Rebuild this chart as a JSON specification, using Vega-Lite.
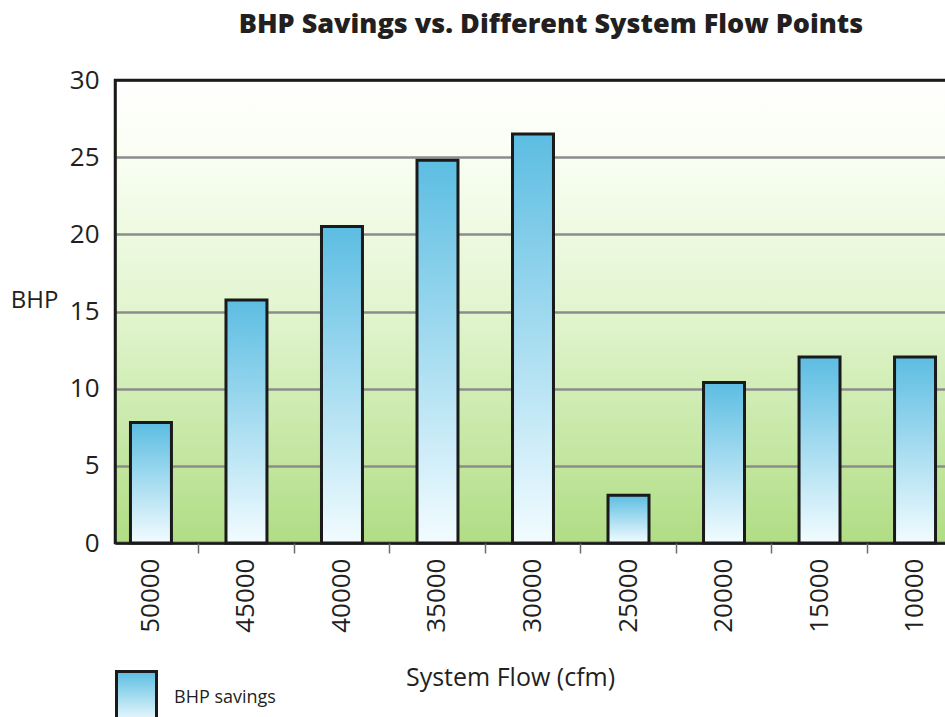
{
  "$schema": "https://vega.github.io/schema/vega-lite/v6.json",
  "autosize": "none",
  "width": 836,
  "height": 463,
  "padding": {"left": 115, "top": 80, "right": 0, "bottom": 174},
  "background": "white",
  "title": {
    "text": "BHP Savings vs. Different System Flow Points",
    "font": "Open Sans",
    "fontSize": 27,
    "fontWeight": 800,
    "color": "#231f20",
    "anchor": "middle",
    "dx": 18,
    "offset": 28
  },
  "config": {
    "font": "Open Sans",
    "view": {
      "stroke": "#1a1a1a",
      "strokeWidth": 2.5,
      "fill": {
        "gradient": "linear", "x1": 0, "y1": 0, "x2": 0, "y2": 1,
        "stops": [
          {"offset": 0, "color": "#ffffff"},
          {"offset": 0.15, "color": "#fafef4"},
          {"offset": 0.5, "color": "#e2f5cf"},
          {"offset": 1, "color": "#b0dd84"}
        ]
      }
    }
  },
  "data": {
    "values": [
      {"flow": "50000", "bhp": 7.8, "series": "BHP savings"},
      {"flow": "45000", "bhp": 15.75, "series": "BHP savings"},
      {"flow": "40000", "bhp": 20.5, "series": "BHP savings"},
      {"flow": "35000", "bhp": 24.8, "series": "BHP savings"},
      {"flow": "30000", "bhp": 26.5, "series": "BHP savings"},
      {"flow": "25000", "bhp": 3.1, "series": "BHP savings"},
      {"flow": "20000", "bhp": 10.4, "series": "BHP savings"},
      {"flow": "15000", "bhp": 12.05, "series": "BHP savings"},
      {"flow": "10000", "bhp": 12.05, "series": "BHP savings"}
    ]
  },
  "resolve": {"axis": {"x": "independent"}},
  "layer": [
    {
      "mark": {
        "type": "bar", "strokeWidth": 3,
        "fill": {
          "gradient": "linear", "x1": 0, "y1": 0, "x2": 0, "y2": 1,
          "stops": [
            {"offset": 0, "color": "#5cbde2"},
            {"offset": 1, "color": "#f2fcff"}
          ]
        }
      },
      "encoding": {
        "x": {
          "field": "flow", "type": "nominal", "sort": null,
          "scale": {"paddingInner": 0.571, "paddingOuter": 0.162},
          "axis": {
            "orient": "bottom",
            "title": "System Flow (cfm)",
            "titleFontSize": 25,
            "titleFontWeight": "normal",
            "titleColor": "#231f20",
            "titleX": 395,
            "titleY": 134,
            "titleAlign": "center",
            "titleBaseline": "middle",
            "labelAngle": -90,
            "labelFontSize": 26,
            "labelColor": "#231f20",
            "labelPadding": 15,
            "ticks": false,
            "domainColor": "#1a1a1a",
            "domainWidth": 2.5
          }
        },
        "y": {
          "field": "bhp", "type": "quantitative",
          "scale": {"domain": [0, 30], "nice": false},
          "axis": {
            "title": "BHP",
            "titleAngle": 0,
            "titleX": -81,
            "titleY": 220,
            "titleAlign": "center",
            "titleBaseline": "middle",
            "titleFontSize": 24,
            "titleFontWeight": "normal",
            "titleColor": "#231f20",
            "values": [0, 5, 10, 15, 20, 25, 30],
            "labelFontSize": 26,
            "labelColor": "#231f20",
            "labelPadding": 16,
            "ticks": false,
            "domainColor": "#1a1a1a",
            "domainWidth": 2.5,
            "gridColor": {"condition": {"test": "datum.value == 30", "value": "#1a1a1a"}, "value": "#8c8c8c"},
            "gridWidth": 2.5
          }
        },
        "stroke": {
          "field": "series", "type": "nominal",
          "scale": {"range": ["#1a1a1a"]},
          "legend": {
            "orient": "none",
            "legendX": 0,
            "legendY": 596,
            "title": null,
            "padding": 0,
            "symbolType": "M-1,-1.3H1V1.3H-1Z",
            "symbolSize": 1600,
            "symbolStrokeWidth": 3,
            "labelFontSize": 18,
            "labelColor": "#231f20",
            "labelOffset": 16,
            "encode": {
              "symbols": {
                "update": {
                  "fill": {
                    "value": {
                      "gradient": "linear", "x1": 0, "y1": 0, "x2": 0, "y2": 1,
                      "stops": [
                        {"offset": 0, "color": "#5cbde2"},
                        {"offset": 1, "color": "#f2fcff"}
                      ]
                    }
                  },
                  "fillOpacity": {"value": 1},
                  "opacity": {"value": 1}
                }
              }
            }
          }
        }
      }
    },
    {
      "mark": {"type": "tick", "opacity": 0},
      "encoding": {
        "x": {
          "field": "flow", "type": "nominal", "sort": null,
          "axis": {
            "orient": "bottom",
            "title": null,
            "labels": false,
            "domain": false,
            "grid": false,
            "ticks": true,
            "tickColor": "#6d6d6d",
            "tickWidth": 1.5,
            "tickSize": 10,
            "bandPosition": 1.666
          }
        }
      }
    }
  ]
}
